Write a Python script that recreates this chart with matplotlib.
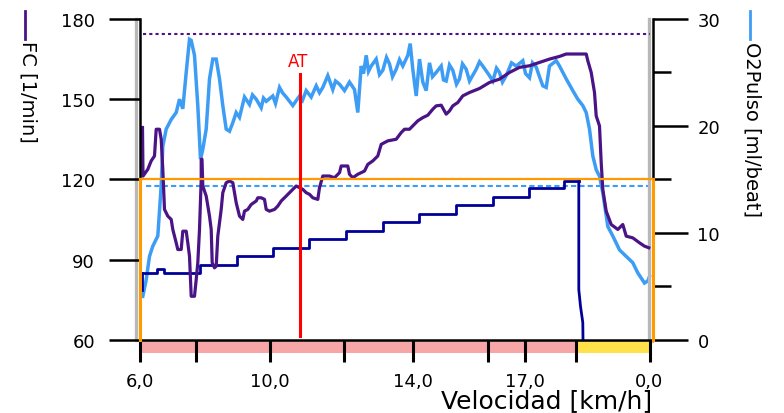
import matplotlib
matplotlib.use("Agg")
import matplotlib.pyplot as plt
import matplotlib.transforms as mtransforms
from matplotlib.patches import Rectangle
from matplotlib.lines import Line2D

# eje x en muestras; las etiquetas muestran la velocidad de cada etapa
ticks_x = [0, 56.5, 130.5, 204.5, 273.5, 348.5, 385.5, 436.5, 510]
ticks_lbl = ["6,0", "", "10,0", "", "14,0", "", "17,0", "", "0,0"]

# FC [1/min]
fc_x = [3.0, 3.5, 8.3, 11.7, 15, 16.7, 20, 21.7, 23.3, 25, 28.3, 31.7, 33.3, 36.7, 38.3,
        41.7, 43.3, 46.7, 48.3, 50, 51.7, 55, 56.7, 58.3, 60, 61.7, 61.7, 62.5, 63.3, 66.7,
        70, 71.7, 72.7, 75, 76.7, 78.3, 80, 81.7, 83.3, 86.7, 90, 93.3, 95, 96.7, 100,
        103.3, 105, 108.3, 111.7, 116.7, 118.3, 121.7, 125, 126.7, 130, 135, 138.3, 141.7,
        146.7, 153.3, 156.7, 160, 163.3, 166.7, 170, 173.3, 178.3, 180, 183.3, 190, 195,
        200, 201.7, 208.3, 210, 213.3, 218.3, 225, 228.3, 233.3, 238.3, 241.7, 248.3,
        256.7, 261.7, 265, 270, 273.3, 278.3, 283.3, 288.3, 293.3, 296.7, 301.7, 306.7,
        310, 313.3, 318.3, 323.3, 330, 340, 350, 360, 370, 380, 390, 400, 410, 420, 426.7,
        446.7, 448.3, 451.7, 455, 456.7, 460, 461.7, 463.3, 466.7, 471.7, 478.3, 483.3,
        486.7, 493.3, 500, 505, 509.3]
fc_y = [139.4, 121.2, 123.75, 126.9, 128.75, 138.75, 138.75, 135, 123.75, 108.75, 106.25,
        105, 101.25, 96.25, 93.75, 93.75, 100.6, 100.6, 96.25, 91.25, 76.25, 76.25, 82.5,
        88.75, 101.25, 120, 127.5, 127.5, 117.5, 113.75, 106.25, 101.25, 88.75, 86.9, 87.5,
        98.75, 103.75, 108.75, 115, 118.75, 119.4, 118.75, 115, 111.25, 106.25, 105, 108.1,
        108.75, 110.6, 111.9, 113.1, 113.1, 112.5, 108.75, 108.1, 108.75, 110, 111.9,
        113.75, 116.25, 117.5, 116.9, 116.25, 115, 114.4, 113.1, 112.5, 116.9, 121.25,
        121.25, 120.6, 122.5, 125, 125, 121.9, 120.6, 121.9, 123.1, 125.6, 126.9, 128.75,
        133.1, 134.4, 135, 137.5, 138.75, 138.75, 140, 141.9, 143.1, 144, 146.25, 147.5,
        147.75, 144.4, 145.6, 147.5, 148.75, 151.25, 152.5, 154, 156.25, 157.5, 160, 161.9,
        162.5, 163.75, 165, 166, 166.9, 166.9, 164.4, 160, 152.5, 143.75, 140, 126.25,
        116.25, 108.1, 103.1, 101.25, 103.1, 98.75, 98.1, 96.25, 95, 94.4]

# O2Pulso [ml/beat]
o2_x = [3.3, 6.7, 10, 13.3, 18.3, 21.7, 23.3, 26.7, 31.7, 36.7, 40, 43.3, 46.7, 50, 51.7,
        55, 58.3, 61, 63.3, 66.7, 70, 73.3, 76.7, 80, 83.3, 86.7, 90, 93.3, 96.7, 100, 105,
        110, 113, 116.7, 121.7, 124, 126.7, 133.3, 136, 140, 143, 146.7, 153.3, 160, 163,
        166.7, 171.7, 176.7, 180, 183.3, 188.3, 193.3, 196, 200, 205, 210, 215, 218.3,
        221.7, 224, 226.7, 229, 231.7, 236.7, 240, 243.3, 247, 250, 253, 256.7, 260, 263.3,
        268.3, 270.7, 273.3, 276.7, 280, 283.3, 286.7, 290, 293, 296.7, 301.7, 304,
        306.7, 310, 313.3, 317, 320, 323, 326.7, 330, 336.7, 340, 343.3, 350, 353.3, 357,
        360, 363, 366.7, 372, 376.7, 383.3, 386, 390, 393, 396.7, 400, 403.3, 406.7, 410,
        416.7, 420, 426.7, 433.3, 438.3, 443.3, 446.7, 450, 453.3, 456.7, 460, 463.3,
        468.3, 473.3, 480, 486.7, 493.3, 498.3, 505, 508.3, 510]
o2_y = [4.06, 5.6, 7.8, 8.75, 9.7, 14.4, 18.1, 19.7, 20.6, 21.25, 22.5, 21.6, 25, 28.1, 28,
        26.6, 21.9, 16.9, 17.8, 19.7, 24.4, 26.25, 26.25, 24.4, 21.9, 19.7, 19.5, 20.3,
        21.25, 20.8, 22.7, 22, 22.9, 22.5, 21.7, 22.6, 22.3, 22.8, 22.1, 23.6, 23.1, 22.7,
        21.9, 22.8, 22.4, 23.3, 22.7, 23.75, 23.1, 23.6, 24.7, 23.4, 24.2, 23.9, 23.3,
        24.1, 23.4, 21.25, 25.6, 24.9, 26.6, 25.1, 25.6, 26.25, 24.8, 25.2, 26.4, 25.8,
        24.6, 25.3, 26.2, 25.6, 26.6, 27.7, 25.3, 22.8, 26.25, 24.1, 23.3, 25.9, 24.6, 25,
        25.6, 24.3, 24.2, 25.7, 25.2, 23.9, 24.4, 25.8, 25.3, 24.2, 25.3, 26, 25.6, 24.7,
        24.2, 25.4, 25, 24.1, 24.7, 25.9, 25.6, 26.1, 24.9, 24.5, 25.9, 25.5, 24.6, 23.75,
        23.6, 25.6, 26.1, 25.6, 24.4, 23.3, 22.5, 21.9, 21.25, 19.7, 17.2, 15.9, 15.3,
        13.75, 10.6, 9.7, 8.4, 7.8, 7.2, 6.25, 5.3, 5.5, 5.9]

# carga (escalones) en escala de FC
carga_x = [2, 17, 24, 60, 97, 133, 169, 206, 243, 279, 316, 353, 389, 424, 439.3]
carga_y = [85, 86.6, 85, 88, 91.2, 94.4, 97.8, 100.6, 104.1, 107.1, 110.25, 113.4,
           116.6, 119.4, 119.4]
caida_x = [439.3, 439.3, 441, 443.3, 443.5]
caida_y = [119.4, 78.75, 72.5, 66.4, 60]

fc_max = 174.4
o2_ref = 14.4
fc_umbral = 120
at_x = 160
fases = [(0, 438, "#f6a6a6"), (438, 510, "#ffe24a")]

morado = "#4a1486"
azul = "#3d9df5"
marino = "#000099"
naranja = "#ff9a00"

fig = plt.figure(figsize=(7.84, 4.14), dpi=100)
ax = fig.add_axes([139.5 / 784, (414 - 340.7) / 414, 513.5 / 784, 320.7 / 414])
ax2 = ax.twinx()
ax.set_zorder(ax2.get_zorder() + 1)
ax.patch.set_visible(False)

ax.set_xlim(0, 513.5)
ax.set_ylim(60, 180)
ax2.set_ylim(0, 30)

# O2 pulso (detras)
ax2.plot(o2_x, o2_y, color=azul, lw=2.5, solid_joinstyle="miter")
ax2.plot([6, 510], [o2_ref, o2_ref], color=azul, lw=1.5, ls=(0, (2.5, 1.5)))

# sombras grises de los bordes
ax.plot([-3.5, -3.5], [60, 180], color="#b8b8b8", lw=2.4, clip_on=False, zorder=0.5)
ax.plot([509.5, 509.5], [60, 180], color="#b8b8b8", lw=2.4, clip_on=False, zorder=0.5)

ax.plot([3, 510], [fc_max, fc_max], color=morado, lw=1.5, ls=(0, (1.5, 1.5)))
ax.plot(carga_x, carga_y, color=marino, lw=2, drawstyle="steps-post")
ax.plot([2, 2], [78.75, 85], color=marino, lw=2)
ax.plot(caida_x, caida_y, color=marino, lw=2)
ax.plot(fc_x, fc_y, color=morado, lw=2.3)

# umbral naranja
ax.plot([0, 513.5], [fc_umbral, fc_umbral], color=naranja, lw=1.6, clip_on=False, zorder=3)
ax.plot([0.6, 0.6], [60, fc_umbral], color=naranja, lw=2.2, clip_on=False, zorder=3)
ax.plot([513, 513], [60, fc_umbral], color=naranja, lw=2.2, clip_on=False, zorder=3)

# AT
ax.plot([at_x, at_x], [159.4, 61.5], color="#ff0000", lw=2.2, zorder=4)
ax.text(at_x - 1, 164.3, "AT", color="#ff0000", fontsize=12, ha="center", va="center")

# barra de fases bajo el eje
tr = mtransforms.blended_transform_factory(ax.transData, ax.transAxes)
ax.plot([0, 513.5], [-0.006, -0.006], color="#b8b8b8", lw=1.6, transform=tr,
        clip_on=False, zorder=1)
for x0, x1, c in fases:
    ax.add_patch(Rectangle((x0, -0.042), x1 - x0, 0.034, transform=tr, color=c,
                           clip_on=False, zorder=1, lw=0))

for s in ["top", "right"]:
    ax.spines[s].set_visible(False)
for s in ["top", "left", "bottom"]:
    ax2.spines[s].set_visible(False)
ax.spines["left"].set_linewidth(1.8)
ax.spines["bottom"].set_linewidth(1.8)
ax2.spines["right"].set_linewidth(1.8)

ax.set_yticks([60, 90, 120, 150, 180])
ax.tick_params(axis="y", length=22, width=1.8, pad=10, labelsize=13)
ax.set_xticks(ticks_x, ticks_lbl)
ax.tick_params(axis="x", length=16, width=2.2, pad=7, labelsize=13)
ax2.set_yticks([0, 10, 20, 30])
ax2.set_yticks([5, 15, 25], minor=True)
ax2.tick_params(axis="y", which="major", length=25, width=1.8, pad=7, labelsize=13)
ax2.tick_params(axis="y", which="minor", length=13, width=1.8)

fig.text(28 / 784, 1 - 92 / 414, "FC [1/min]", rotation=270, ha="center", va="center",
         fontsize=14)
fig.add_artist(Line2D([25 / 784] * 2, [1 - 12 / 414, 1 - 40 / 414], color=morado, lw=2))
fig.text(752 / 784, 1 - 129 / 414, "O2Pulso [ml/beat]", rotation=270, ha="center",
         va="center", fontsize=14)
fig.add_artist(Line2D([750 / 784] * 2, [1 - 12 / 414, 1 - 40 / 414], color=azul, lw=2))
fig.text(547 / 784, 6 / 414, "Velocidad [km/h]", ha="center", va="baseline", fontsize=18)

fig.savefig("out.png", dpi=100)
